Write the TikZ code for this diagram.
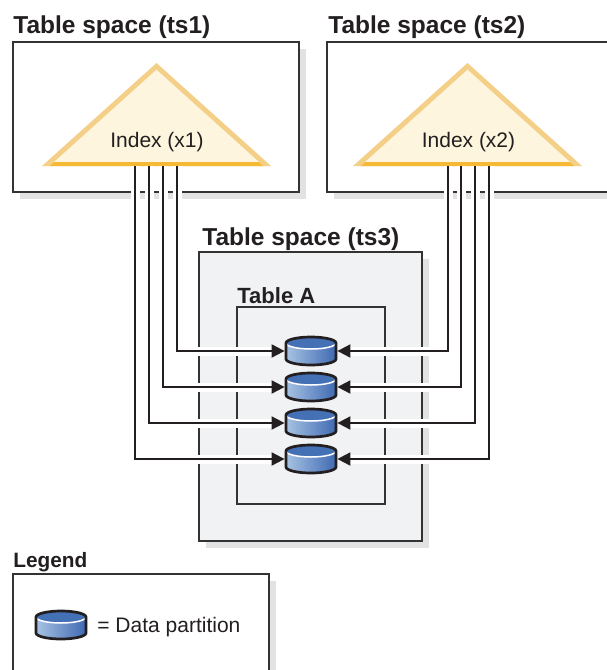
\documentclass[tikz,border=0pt]{standalone}
\usepackage{fontspec}
\setmainfont{Liberation Sans}
\usetikzlibrary{arrows.meta}
\definecolor{boxline}{HTML}{333333}
\definecolor{ink}{HTML}{231F20}
\definecolor{shadowgray}{HTML}{E2E2E2}
\definecolor{tsgray}{HTML}{F1F2F4}
\definecolor{tritan}{HTML}{F4CF87}
\definecolor{triyellow}{HTML}{FDF5DD}
\definecolor{triorange}{HTML}{F6B935}
\definecolor{cyltop}{HTML}{4470B6}
\definecolor{cylleft}{HTML}{A7C3E3}
\definecolor{cylright}{HTML}{3F69B2}
\tikzset{
	boxshadow/.style={fill=shadowgray},
	tsbox/.style={draw=boxline, line width=1pt, fill=white},
	tstitle/.style={anchor=base west, inner sep=0pt, text=ink, font=\bfseries\fontsize{12.25}{14}\selectfont},
	idxlabel/.style={anchor=base, inner sep=0pt, text=ink, font=\fontsize{10.5}{12}\selectfont},
	partnode/.style={minimum width=26pt, minimum height=14pt, inner sep=0pt},
	link/.style={draw=ink, line width=1pt, preaction={draw=white, line width=4.5pt}, -{Triangle[length=6.5pt,width=6.5pt]}},
	indextri/.pic={
		\fill[tritan] (-114.5,0) -- (0,-103) -- (114.5,0) -- cycle;
		\fill[triyellow] (-106.9,0) -- (0,-96.3) -- (106.9,0) -- cycle;
		\fill[triorange] (-106.9,0) -- (-102.4,-4) -- (102.4,-4) -- (106.9,0) -- cycle;
	},
	datapart/.pic={
		\shade[left color=cylleft, right color=cylright] (-25,-8) -- (-25,8) arc[start angle=180, end angle=0, x radius=25, y radius=6] -- (25,-8) -- cycle;
		\fill[cyltop] (0,-8) ellipse [x radius=25, y radius=6];
		\draw[white, line width=0.75pt] (-25,-8) arc[start angle=180, end angle=0, x radius=25, y radius=6];
		\draw[ink, line width=1.35pt] (-25,-8) arc[start angle=180, end angle=360, x radius=25, y radius=6] -- (25,8) arc[start angle=0, end angle=180, x radius=25, y radius=6] -- cycle;
	}
}

\begin{document}
\begin{tikzpicture}[x=0.5pt, y=-0.5pt]
				%%%%% START %%%%%
				\useasboundingbox (0,0) rectangle (606,670);
				
				% table spaces ts1 and ts2
				\fill[boxshadow] (20,49) rectangle (306,199);
				\draw[tsbox] (13,42) rectangle (299,192);
				\fill[boxshadow] (334,49) rectangle (622,199);
				\draw[tsbox] (327,42) rectangle (615,192);
				\node[tstitle] (ts1) at (13,33) {Table space (ts1)};
				\node[tstitle] (ts2) at (328,33) {Table space (ts2)};
				
				\pic at (156.5,166) {indextri};
				\pic at (467.5,166) {indextri};
				\node[idxlabel] (x1) at (157,147) {Index (x1)};
				\node[idxlabel] (x2) at (468.5,147) {Index (x2)};
				
				% table space ts3
				\fill[boxshadow] (206,259) rectangle (429,548);
				\draw[tsbox, fill=tsgray] (199,252) rectangle (422,541);
				\draw[boxline, line width=1pt] (237,307) rectangle (385,504);
				\node[tstitle] (ts3) at (202,245) {Table space (ts3)};
				\node[tstitle, font=\bfseries\fontsize{11}{13}\selectfont] (taba) at (237,303) {Table A};
				
				% partitions and index keys
				\foreach \n/\y in {1/351,2/387,3/423,4/459}
					\node[partnode] (p\n) at (311,\y) {};
				\foreach \k/\x in {a/135,b/149,c/163,d/177}
					\coordinate (x1\k) at (\x,166);
				\foreach \k/\x in {a/448,b/461,c/475,d/489}
					\coordinate (x2\k) at (\x,166);
				
				\foreach \k/\n in {d/1,c/2,b/3,a/4}
					\draw[link] (x1\k) |- (p\n.west);
				\foreach \k/\n in {a/1,b/2,c/3,d/4}
					\draw[link] (x2\k) |- (p\n.east);
				
				\foreach \n in {1,...,4}
					\pic at (p\n) {datapart};
				
				% legend
				\node[tstitle, font=\bfseries\fontsize{10.4}{12}\selectfont] (leg) at (13,567) {Legend};
				\fill[boxshadow] (20,581) rectangle (276,690);
				\draw[tsbox] (13,574) rectangle (269,685);
				\node[partnode] (legpart) at (61,625) {};
				\pic at (legpart) {datapart};
				\node[idxlabel, anchor=base west] (legtext) at (97,632) {= Data partition};
				%%%%% END %%%%%
\end{tikzpicture}
\end{document}
